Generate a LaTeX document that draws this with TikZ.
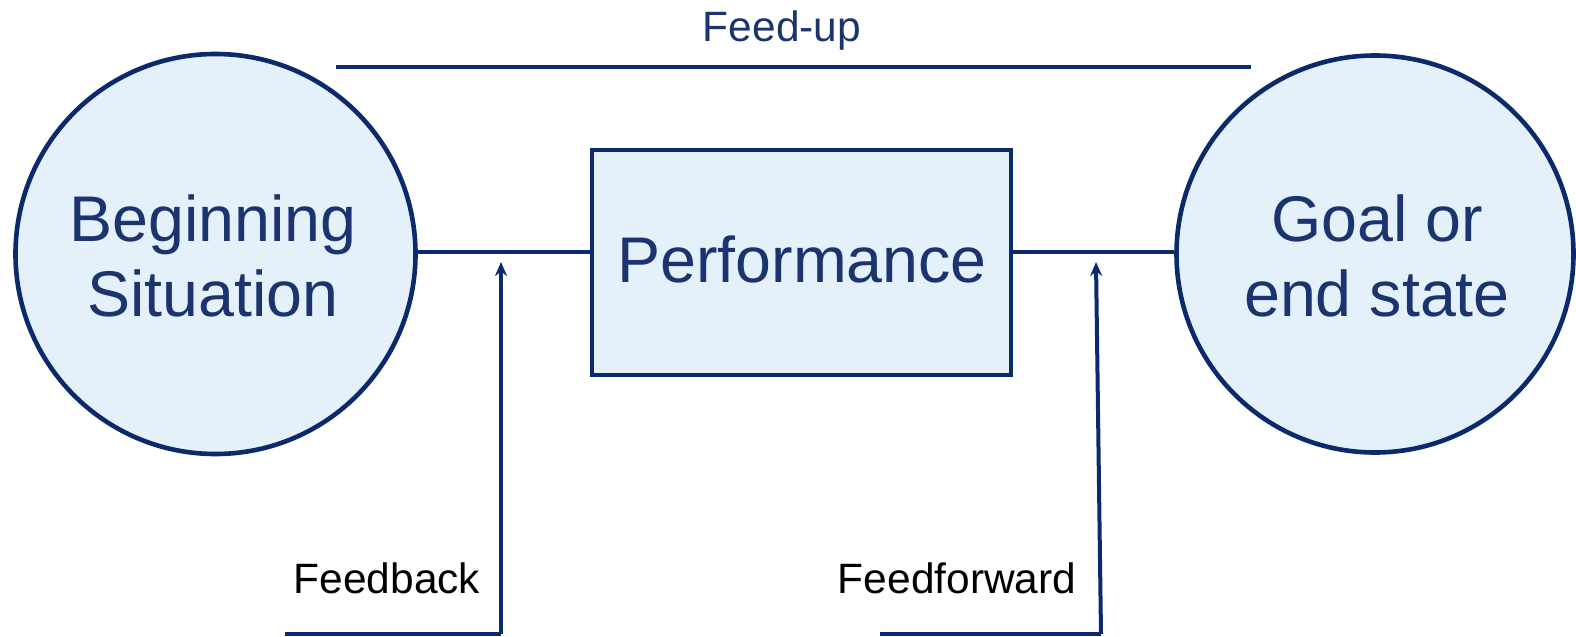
\documentclass[tikz,border=0pt]{standalone}
\usepackage{fontspec}
\setmainfont{Liberation Sans}
\usetikzlibrary{arrows.meta}
\definecolor{navy}{HTML}{0B2A6B}
\definecolor{lightfill}{HTML}{E4F0FA}
\definecolor{txtnavy}{HTML}{1B3470}
\begin{document}
\begin{tikzpicture}[x=0.5bp,y=-0.5bp,
  shapeline/.style={draw=navy,line width=2.3bp,fill=lightfill},
  conn/.style={draw=navy,line width=2bp},
  arr/.style={conn,-{Stealth[length=7bp,width=6bp]}},
  bigtext/.style={text=txtnavy,font=\fontsize{32.4}{37.5}\selectfont,align=center},
  smalltext/.style={font=\fontsize{21.3}{25}\selectfont}]
\useasboundingbox (0,0) rectangle (1576,637);
\node[shapeline,circle,minimum size=200bp,inner sep=0pt] (begin) at (215.5,254) {};
\node[bigtext] (begintext) at (213,256) {Beginning\\Situation};
\node[shapeline,circle,minimum size=198.5bp,inner sep=0pt] (goal) at (1375,254) {};
\node[bigtext] (goaltext) at (1377,256) {Goal or\\end state};
\node[shapeline,minimum width=209.5bp,minimum height=112.5bp,inner sep=0pt] (perf) at (801.5,262.5) {};
\node[bigtext] (perftext) at (802,259) {Performance};
\coordinate (bl) at ([yshift=1bp]begin.east);
\coordinate (gl) at ([yshift=1bp]goal.west);
\draw[conn] (bl) -- (perf.west |- bl);
\draw[conn] (perf.east |- gl) -- (gl);
% feed-up
\coordinate (fu1) at (336,67);
\coordinate (fu2) at (1251,67);
\draw[conn] (fu1) -- (fu2);
\node[smalltext,text=txtnavy] (feedup) at (782,31) {Feed-up};
% feedback
\coordinate (fb0) at (285,634);
\coordinate (fb1) at (501,634);
\coordinate (fb2) at (501,262);
\draw[conn] (fb0) -- (fb1);
\draw[arr] (fb1) -- (fb2);
\node[smalltext] (feedback) at (387,578) {Feedback};
% feedforward
\coordinate (ff0) at (880,634);
\coordinate (ff1) at (1101,634);
\coordinate (ff2) at (1096,262);
\draw[conn] (ff0) -- (ff1);
\draw[arr] (ff1) -- (ff2);
\node[smalltext] (feedforward) at (957,578) {Feedforward};
\end{tikzpicture}
\end{document}
